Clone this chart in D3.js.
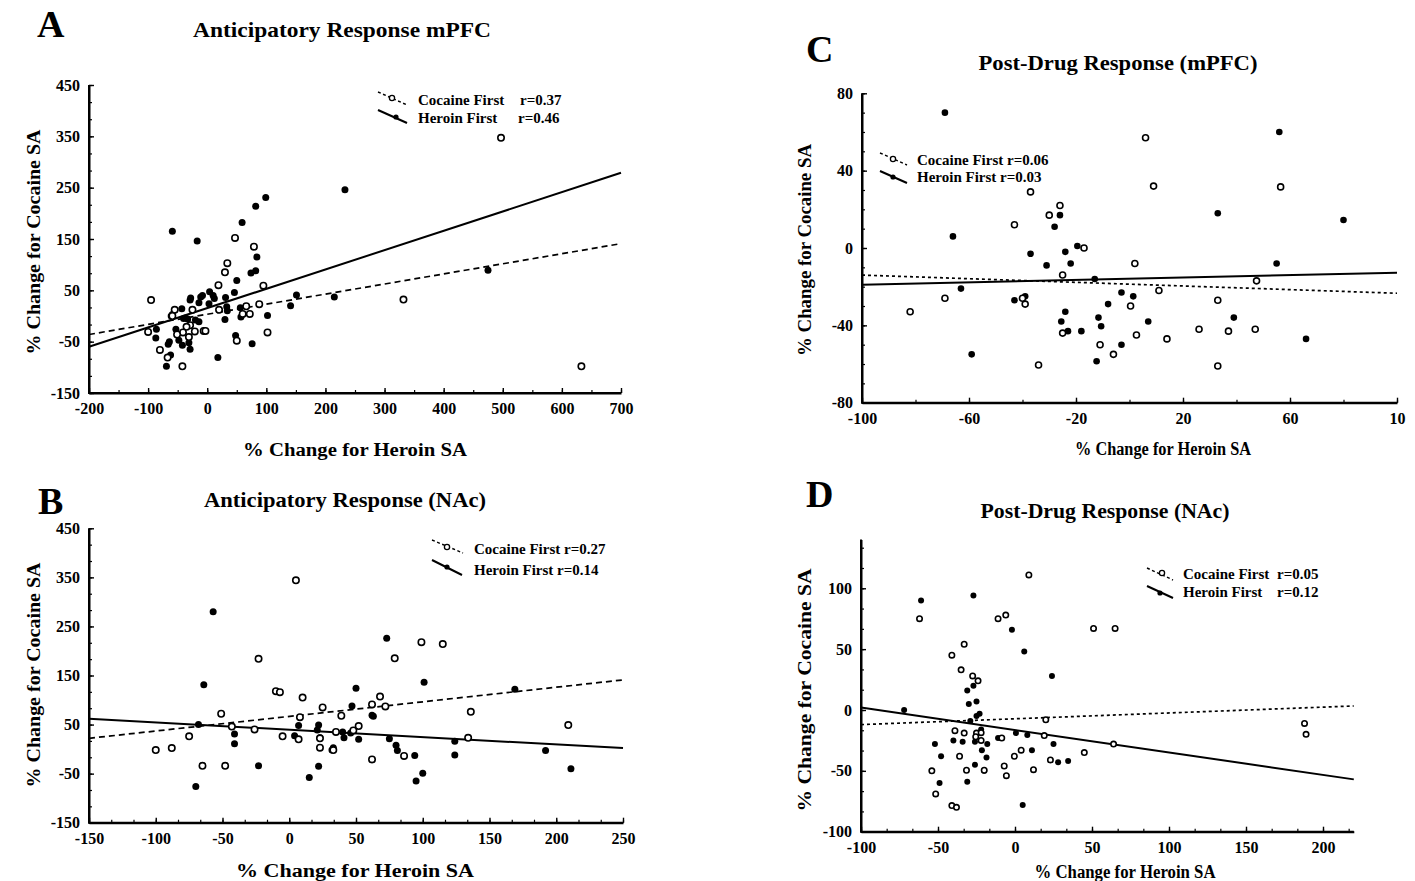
<!DOCTYPE html>
<html><head><meta charset="utf-8">
<script src="https://cdn.jsdelivr.net/npm/d3@7"></script>
<style>
body{margin:0;background:#fff}
text{font-family:"Liberation Serif","Times New Roman",serif;font-weight:bold;fill:#000}
</style>
</head><body>
<svg id="chart" width="1415" height="881"></svg>
<script>
// ---------------- DATA ----------------
// Panel A: Anticipatory Response mPFC
const aCocaine = [[47,152],[79,135],[34,103],[30,85],[19,60],[95,59],[-95,31],[88,23],[66,19],[60,4],[72,4],[20,12],[-55,12],[-59,0],[-25,12],[-29,-18],[-35,-21],[-21,-30],[-41,-32],[-51,-36],[-31,-41],[-6,-29],[-3,-29],[-100,-31],[50,-48],[102,-32],[-80,-66],[-67,-81],[-42,-98],[497,347],[332,32],[633,-98]];
const aHeroin = [[-59,165],[-17,146],[233,246],[99,231],[82,214],[59,182],[84,115],[82,88],[74,84],[50,69],[46,46],[31,36],[4,47],[10,40],[12,34],[-11,37],[-8,40],[-28,35],[-29,31],[-14,26],[3,24],[-43,14],[-59,3],[-61,0],[-37,-4],[-40,-5],[-33,-6],[-20,-8],[-14,-11],[33,18],[34,10],[56,16],[57,-2],[102,1],[30,-7],[48,-38],[76,-54],[18,-81],[141,20],[151,41],[215,37],[-86,-26],[-87,-43],[-53,-26],[-64,-50],[-66,-55],[-48,-47],[-42,-57],[-31,-52],[-29,-65],[-62,-76],[-69,-98],[475,89]];
const aCocaineFit = [[-200,-36],[700,141]];
const aHeroinFit = [[-200,-60],[700,279]];

// Panel B: Anticipatory Response (NAc)
const bCocaine = [[5,344],[-23,184],[-10,118],[-7,116],[10,105],[25,85],[-51,72],[8,65],[39,68],[-43,46],[-26,40],[-5,26],[7,20],[23,22],[35,35],[48,38],[52,47],[-75,26],[-100,-2],[-88,2],[-65,-34],[-48,-34],[33,-2],[23,3],[99,218],[115,214],[79,185],[136,76],[209,49],[134,23],[86,-14],[62,-21],[62,91],[68,107],[72,87]];
const bHeroin = [[-57,280],[-64,131],[-68,50],[-41,31],[-41,11],[-70,-76],[-23,-34],[7,48],[4,27],[15,-58],[22,49],[21,39],[23,23],[22,-35],[32,-2],[33,3],[41,23],[40,35],[47,88],[50,124],[46,33],[52,20],[73,226],[101,136],[62,69],[63,67],[75,21],[80,8],[81,-3],[94,-13],[95,-65],[100,-49],[124,16],[124,-12],[169,122],[192,-3],[211,-40]];
const bCocaineFit = [[-150,22],[250,141]];
const bHeroinFit = [[-150,62],[250,2]];

// Panel C: Post-Drug Response (mPFC)
const cCocaine = [[-82,-33],[-69,-26],[-43,12],[-37,29],[-30,17],[-26,22],[-25,-14],[-17,0],[-40,-26],[-39,-29],[-25,-44],[-11,-50],[-6,-55],[-34,-60.5],[6,57],[9,32],[2,-8],[11,-22],[0.4,-30],[2.6,-45],[14,-47],[26,-42],[33,-27],[37,-43],[47,-42],[47.5,-17],[56.5,31.6],[33,-61]];
const cHeroin = [[-69,70],[-66,6],[-63,-21],[-59,-55],[-43,-27],[-39,-25],[-37,-3],[-31,-9],[-26,17],[-28,11],[-24,-2],[-22,-8],[-19.5,1],[-24,-33],[-25.5,-38],[-23,-43],[-18,-43],[-13,-16],[-8,-29],[-11.6,-36],[-10.6,-40.5],[-12.3,-58.6],[-3,-50],[56,60],[33,18],[80,14.5],[55,-8],[39,-36],[66,-47],[7,-38],[-3,-23],[1.4,-25]];
const cCocaineFit = [[-100,-14],[100,-23.4]];
const cHeroinFit = [[-100,-19],[100,-12.8]];

// Panel D: Post-Drug Response (NAc)
const dCocaine = [[-62,75],[9,111],[-11,75],[-6,78],[51,67],[65,67],[-33,54],[-41,45],[-35,33],[-27.5,28],[-24,24],[-39,-17],[-33,-19],[-25,-19],[-22,-18.6],[-25.5,-22],[-22,-25],[-8.6,-23],[20,-8],[19,-21],[-36,-38],[-54,-50],[-51.5,-69],[-41,-78.5],[-38,-80],[-31.5,-49.5],[-20,-49.5],[-7,-46],[-5.6,-54],[-0.4,-38],[4,-33],[12,-49],[23,-41],[45,-35],[64,-28],[188,-11],[189,-20]];
const dHeroin = [[-61,90],[-27,94],[-2,66],[6,48],[24,28],[-72,0],[-31,16],[-27,20],[-30,5],[-25,7],[-25,-5],[-23,-3],[-29,-9],[-22,-16],[-26,-26],[-34,-26],[-40,-25],[-52,-28],[-48,-38],[-18,-28],[-21.5,-33],[-18.5,-39],[-26,-45],[-20,-50],[-31,-59],[-49,-60],[-11,-23],[0.6,-19],[8,-20.5],[11,-33],[25,-28],[28,-43],[34.5,-42],[5,-78]];
const dCocaineFit = [[-100,-12],[220,3.3]];
const dHeroinFit = [[-100,2],[220,-57]];

// Tick labels
const aXTicks = [-200,-100,0,100,200,300,400,500,600,700];
const aYTicks = [450,350,250,150,50,-50,-150];
const bXTicks = [-150,-100,-50,0,50,100,150,200,250];
const bYTicks = [450,350,250,150,50,-50,-150];
const cXTicks = [-100,-60,-20,20,60,100];
const cXTickLabels = ["-100","-60","-20","20","60","10"];
const cYTicks = [80,40,0,-40,-80];
const dXTicks = [-100,-50,0,50,100,150,200];
const dYTicks = [100,50,0,-50,-100];

const titles = ["Anticipatory Response mPFC","Anticipatory Response (NAc)","Post-Drug Response (mPFC)","Post-Drug Response (NAc)"];
const letters = ["A","B","C","D"];
const legendCocaine = [["Cocaine First","r=0.37"],["Cocaine First r=0.27",""],["Cocaine First r=0.06",""],["Cocaine First","r=0.05"]];
const legendHeroin = [["Heroin First","r=0.46"],["Heroin First r=0.14",""],["Heroin First r=0.03",""],["Heroin First","r=0.12"]];
const xTitle = "% Change for Heroin SA";
const yTitle = "% Change for Cocaine SA";

// ---------------- LAYOUT ----------------
const panels = [
 {xDomain:[-200,700], xRange:[89,621], yDomain:[-150,450], yRange:[393,85],
  xTicks:aXTicks, xMinor:50, yTicks:aYTicks, yMinor:100/3,
  cocaine:aCocaine, heroin:aHeroin, cFit:aCocaineFit, hFit:aHeroinFit, dash:"6,4", r:3.2,
  letter:[37,37], title:[342,37,298], xt:[355,456,224], yt:[40,242,225],
  leg:{cx:[378,407,92,105], hx:[378,407,110,123], cm:[392,98], hm:[396,117], tx:418, rx:520, ty:[105,123]}},
 {xDomain:[-150,250], xRange:[89,623], yDomain:[-150,450], yRange:[822.7,528.3],
  xTicks:bXTicks, xMinor:50/3, yTicks:bYTicks, yMinor:100/3,
  cocaine:bCocaine, heroin:bHeroin, cFit:bCocaineFit, hFit:bHeroinFit, dash:"6,4", r:3.2,
  letter:[38,514], title:[345,507,282], xt:[355,877,238], yt:[40,675,225],
  leg:{cx:[432,463,540,553], hx:[432,462,560,575], cm:[447,547], hm:[447,567], tx:474, rx:0, ty:[554,575]}},
 {xDomain:[-100,100], xRange:[862,1397], yDomain:[-80,80], yRange:[402.7,93.3],
  xTicks:cXTicks, xLabels:cXTickLabels, xMinor:20, yTicks:cYTicks, yMinor:10,
  cocaine:cCocaine, heroin:cHeroin, cFit:cCocaineFit, hFit:cHeroinFit, dash:"3,3", r:3.0,
  letter:[806,62], title:[1118,70,279], xt:[1163,455,176], yt:[811,250,212],
  leg:{cx:[880,907,153,165], hx:[880,907,171,183], cm:[893,159], hm:[893,177], tx:917, rx:0, ty:[165,182]}},
 {xDomain:[-100,220], xRange:[861,1353.8], yDomain:[-100,140], yRange:[831.7,539.6],
  xTicks:dXTicks, xMinor:50/3, yTicks:dYTicks, yMinor:50/3,
  cocaine:dCocaine, heroin:dHeroin, cFit:dCocaineFit, hFit:dHeroinFit, dash:"3,3", r:2.7,
  letter:[806,507], title:[1105,518,249], xt:[1125,878,181], yt:[811,690,243],
  leg:{cx:[1147,1173,568,580], hx:[1147,1173,586,598], cm:[1162,573], hm:[1160,593], tx:1183, rx:1277, ty:[579,597]}}
];

const svg = d3.select("#chart");

function range(a,b,s){const out=[];for(let v=a;v<=b+1e-6;v+=s)out.push(+v.toFixed(4));return out;}

panels.forEach((p,i)=>{
  const g = svg.append("g");
  const x = d3.scaleLinear().domain(p.xDomain).range(p.xRange);
  const y = d3.scaleLinear().domain(p.yDomain).range(p.yRange);
  const x0 = p.xRange[0], y0 = p.yRange[0];

  // minor ticks
  g.append("g").attr("transform",`translate(0,${y0})`)
    .call(d3.axisBottom(x).tickValues(range(p.xDomain[0],p.xDomain[1],p.xMinor)).tickSize(-3).tickSizeOuter(0).tickFormat(""))
    .call(s=>{s.select(".domain").remove();s.selectAll("line").attr("stroke-width",1.2);});
  g.append("g").attr("transform",`translate(${x0},0)`)
    .call(d3.axisLeft(y).tickValues(range(p.yDomain[0],p.yDomain[1],p.yMinor)).tickSize(-3).tickSizeOuter(0).tickFormat(""))
    .call(s=>{s.select(".domain").remove();s.selectAll("line").attr("stroke-width",1.2);});

  // major axes
  const fmtX = p.xLabels ? (d=>p.xLabels[p.xTicks.indexOf(d)]) : (d=>String(d));
  const xa = g.append("g").attr("transform",`translate(0,${y0})`)
    .call(d3.axisBottom(x).tickValues(p.xTicks).tickSize(-5).tickSizeOuter(0).tickPadding(10).tickFormat(fmtX));
  const ya = g.append("g").attr("transform",`translate(${x0},0)`)
    .call(d3.axisLeft(y).tickValues(p.yTicks).tickSize(-5).tickSizeOuter(0).tickPadding(9).tickFormat(d=>String(d)));
  [xa,ya].forEach(a=>{
    a.attr("font-family",null).attr("font-size",null);
    a.select(".domain").attr("stroke","#000").attr("stroke-width",2);
    a.selectAll(".tick line").attr("stroke-width",1.4);
    a.selectAll("text").style("font-size","16px");
  });
  // extend domains to full range
  g.append("line").attr("x1",x0).attr("x2",x0).attr("y1",y(p.yDomain[0])).attr("y2",y(p.yDomain[1])).attr("stroke","#000").attr("stroke-width",2);
  g.append("line").attr("x1",x0-1).attr("x2",x(p.xDomain[1])).attr("y1",y0).attr("y2",y0).attr("stroke","#000").attr("stroke-width",2);

  // fit lines
  const line = d3.line().x(d=>x(d[0])).y(d=>y(d[1]));
  g.append("path").datum(p.cFit).attr("d",line).attr("fill","none").attr("stroke","#000").attr("stroke-width",1.7).attr("stroke-dasharray",p.dash);
  g.append("path").datum(p.hFit).attr("d",line).attr("fill","none").attr("stroke","#000").attr("stroke-width",2);

  // points
  g.append("g").selectAll("circle").data(p.heroin).join("circle")
    .attr("cx",d=>x(d[0])).attr("cy",d=>y(d[1])).attr("r",p.r+0.3).attr("fill","#000");
  g.append("g").selectAll("circle").data(p.cocaine).join("circle")
    .attr("cx",d=>x(d[0])).attr("cy",d=>y(d[1])).attr("r",p.r).attr("fill","#fff").attr("stroke","#000").attr("stroke-width",1.6);

  // letter & title
  g.append("text").attr("x",p.letter[0]).attr("y",p.letter[1]).style("font-size","38px").text(letters[i]);
  g.append("text").attr("x",p.title[0]).attr("y",p.title[1]).attr("text-anchor","middle")
    .attr("textLength",p.title[2]).attr("lengthAdjust","spacingAndGlyphs").style("font-size","21px").text(titles[i]);
  // axis titles
  g.append("text").attr("x",p.xt[0]).attr("y",p.xt[1]).attr("text-anchor","middle")
    .attr("textLength",p.xt[2]).attr("lengthAdjust","spacingAndGlyphs").style("font-size","18px").text(xTitle);
  g.append("text").attr("transform",`translate(${p.yt[0]},${p.yt[1]}) rotate(-90)`).attr("text-anchor","middle")
    .attr("textLength",p.yt[2]).attr("lengthAdjust","spacingAndGlyphs").style("font-size","18px").text(yTitle);

  // legend
  const L = p.leg;
  g.append("line").attr("x1",L.cx[0]).attr("x2",L.cx[1]).attr("y1",L.cx[2]).attr("y2",L.cx[3]).attr("stroke","#000").attr("stroke-width",1.4).attr("stroke-dasharray","3,2.5");
  g.append("circle").attr("cx",L.cm[0]).attr("cy",L.cm[1]).attr("r",2.6).attr("fill","#fff").attr("stroke","#000").attr("stroke-width",1.3);
  g.append("line").attr("x1",L.hx[0]).attr("x2",L.hx[1]).attr("y1",L.hx[2]).attr("y2",L.hx[3]).attr("stroke","#000").attr("stroke-width",2);
  g.append("circle").attr("cx",L.hm[0]).attr("cy",L.hm[1]).attr("r",2.6).attr("fill","#000");
  [legendCocaine[i],legendHeroin[i]].forEach((t,k)=>{
    g.append("text").attr("x",L.tx).attr("y",L.ty[k]).style("font-size","15px").text(t[0]);
    if(t[1]) g.append("text").attr("x",L.rx - (i===0&&k===1?2:0)).attr("y",L.ty[k]).style("font-size","15px").text(t[1]);
  });
});
</script>
</body></html>
